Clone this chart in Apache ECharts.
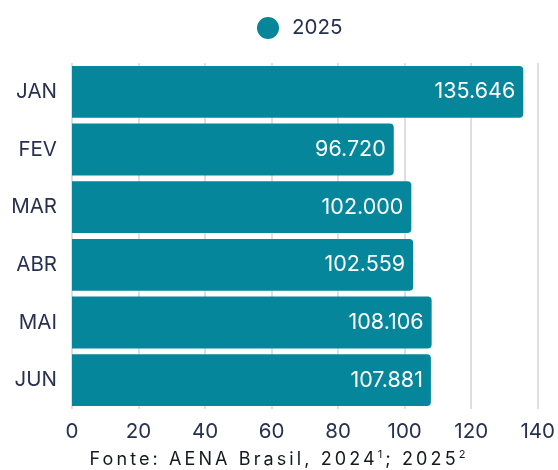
<!DOCTYPE html>
<html><head><meta charset="utf-8">
<script src="https://cdn.jsdelivr.net/npm/echarts@6/dist/echarts.min.js"></script>
<style>
html,body{margin:0;padding:0;background:#fff;}
#c{width:558px;height:470px;}
#src{position:absolute;left:0;top:448px;width:558px;text-align:center;font-family:Inter,'Noto Sans',sans-serif;font-size:18px;line-height:22px;letter-spacing:3.1px;color:#16181f;}
#src sup{font-size:11px;vertical-align:7px;line-height:0;}
</style></head>
<body>
<div id="c"></div>
<div id="src">Fonte: AENA Brasil, 2024<sup>1</sup>; 2025<sup>2</sup></div>
<script>
const categories = ['JAN','FEV','MAR','ABR','MAI','JUN'];
const values2025 = [135.646, 96.720, 102.000, 102.559, 108.106, 107.881];
const seriesName = '2025';
const xTicks = [0, 20, 40, 60, 80, 100, 120, 140];

const chart = echarts.init(document.getElementById('c'));
const txt = '#283050';
const font = 'Inter, "Noto Sans", sans-serif';
chart.setOption({
  animation: false,
  textStyle: {fontFamily: font},
  legend: {
    top: 12, left: 252, icon: 'circle', itemWidth: 22, itemHeight: 22, itemGap: 10,
    textStyle: {fontSize: 20.5, color: txt, fontFamily: font, padding: [0, 0, 0, 8]},
    data: [seriesName]
  },
  grid: {left: 72, right: 19, top: 63, bottom: 61, containLabel: false},
  xAxis: {
    type: 'value', min: xTicks[0], max: xTicks[xTicks.length-1], interval: 20,
    axisLine: {show: false}, axisTick: {show: false},
    splitLine: {show: true, lineStyle: {color: '#d3d4da', width: 1.5}},
    axisLabel: {fontSize: 20.5, color: txt, margin: 12, fontFamily: font}
  },
  yAxis: {
    type: 'category', inverse: true, data: categories,
    axisLine: {show: false}, axisTick: {show: false},
    axisLabel: {fontSize: 20.5, color: txt, margin: 15, fontFamily: font}
  },
  series: [{
    name: seriesName, type: 'bar', data: values2025, barCategoryGap: '10%',
    itemStyle: {color: '#05869b', borderRadius: [0, 4, 4, 0]},
    label: {
      show: true, position: 'insideRight', distance: 8, color: '#fff', fontSize: 21.5, fontFamily: font,
      formatter: p => p.value.toFixed(3)
    }
  }]
});
</script>
</body></html>
